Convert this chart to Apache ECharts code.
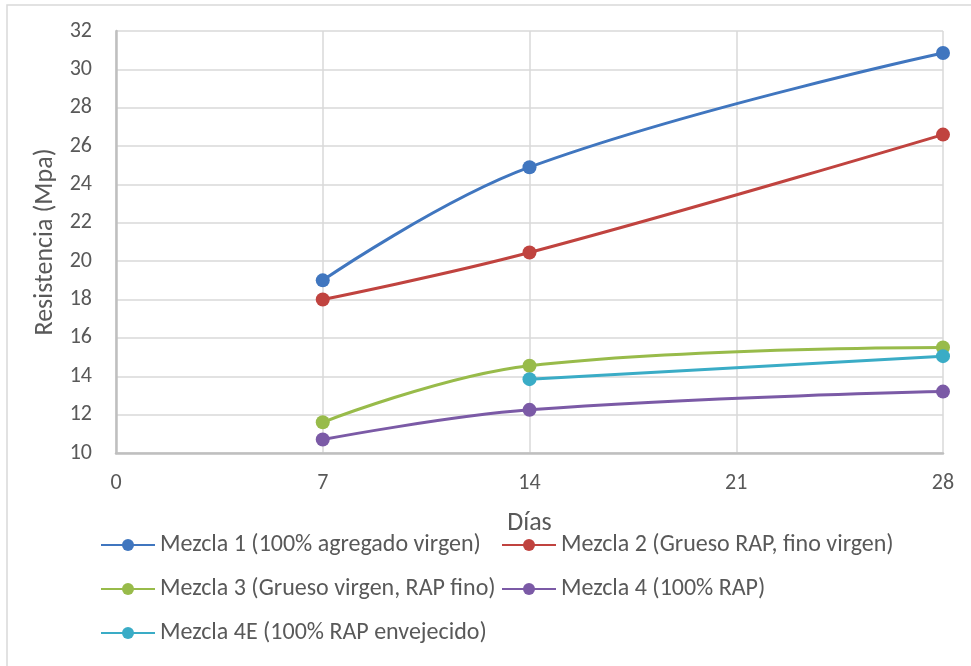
<!DOCTYPE html>
<html>
<head>
<meta charset="utf-8">
<script src="https://cdn.jsdelivr.net/npm/echarts@6/dist/echarts.min.js"></script>
<style>html,body{margin:0;padding:0;background:#fff}#c{width:971px;height:666px}</style>
</head>
<body>
<div id="c"></div>
<script>
const days = [7, 14, 28];
const daysE = [14, 28];
const seriesNames = [
  'Mezcla 1 (100% agregado virgen)',
  'Mezcla 2 (Grueso RAP, fino virgen)',
  'Mezcla 3 (Grueso virgen, RAP fino)',
  'Mezcla 4 (100% RAP)',
  'Mezcla 4E (100% RAP envejecido)'
];
const m1 = [19.0, 24.9, 30.85];
const m2 = [18.0, 20.45, 26.6];
const m3 = [11.6, 14.55, 15.5];
const m4 = [10.7, 12.25, 13.2];
const m4e = [13.85, 15.05];
const colors = ['#4076BF', '#C0433F', '#98BB4A', '#7B5AA6', '#3AACC6'];
const xTicks = [0, 7, 14, 21, 28];
const yTicks = [10, 12, 14, 16, 18, 20, 22, 24, 26, 28, 30, 32];

const font = 'Carlito, Calibri, "Open Sans", "Noto Sans", sans-serif';
const textColor = '#595959';

function mk(name, xs, ys, color) {
  return {
    name: name,
    type: 'line',
    smooth: 0.4,
    data: xs.map((x, i) => [x, ys[i]]),
    symbol: 'circle',
    symbolSize: 14,
    lineStyle: { width: 3, color: color },
    itemStyle: { color: color },
    z: 3
  };
}

const legendBase = {
  orient: 'vertical',
  top: 533,
  itemWidth: 54,
  itemHeight: 15,
  itemGap: 20,
  padding: 0,
  textStyle: { fontSize: 24, color: textColor, fontFamily: font, lineHeight: 24, padding: [0, 0, 0, 0] }
};

const chart = echarts.init(document.getElementById('c'));
chart.setOption({
  animation: false,
  textStyle: { fontFamily: font },
  graphic: [{
    type: 'rect',
    shape: { x: 7, y: 5, width: 975, height: 680 },
    style: { fill: 'none', stroke: '#D9D9D9', lineWidth: 1.5 },
    silent: true
  }],
  grid: { left: 116, top: 31, right: 28, bottom: 213 },
  xAxis: {
    type: 'value',
    min: xTicks[0],
    max: xTicks[xTicks.length - 1],
    interval: 7,
    name: 'Días',
    nameLocation: 'middle',
    nameGap: 57,
    nameTextStyle: { fontSize: 26, color: textColor, fontFamily: font },
    axisLine: { show: true, lineStyle: { color: '#BFBFBF', width: 2.5 } },
    axisTick: { show: false },
    axisLabel: { fontSize: 22, color: textColor, margin: 19, fontFamily: font },
    splitLine: { show: true, lineStyle: { color: '#D9D9D9', width: 1.5 } }
  },
  yAxis: {
    type: 'value',
    min: yTicks[0],
    max: yTicks[yTicks.length - 1],
    interval: 2,
    name: 'Resistencia (Mpa)',
    nameLocation: 'middle',
    nameGap: 58,
    nameTextStyle: { fontSize: 26, color: textColor, fontFamily: font },
    axisLine: { show: true, lineStyle: { color: '#BFBFBF', width: 2.5 } },
    axisTick: { show: false },
    axisLabel: { fontSize: 22, color: textColor, margin: 24, fontFamily: font },
    splitLine: { show: true, lineStyle: { color: '#D9D9D9', width: 1.5 } }
  },
  legend: [
    Object.assign({}, legendBase, { data: [seriesNames[0], seriesNames[2], seriesNames[4]], left: 100 }),
    Object.assign({}, legendBase, { data: [seriesNames[1], seriesNames[3]], left: 501 })
  ],
  series: [
    mk(seriesNames[0], days, m1, colors[0]),
    mk(seriesNames[1], days, m2, colors[1]),
    mk(seriesNames[2], days, m3, colors[2]),
    mk(seriesNames[3], days, m4, colors[3]),
    mk(seriesNames[4], daysE, m4e, colors[4])
  ]
});
</script>
</body>
</html>
